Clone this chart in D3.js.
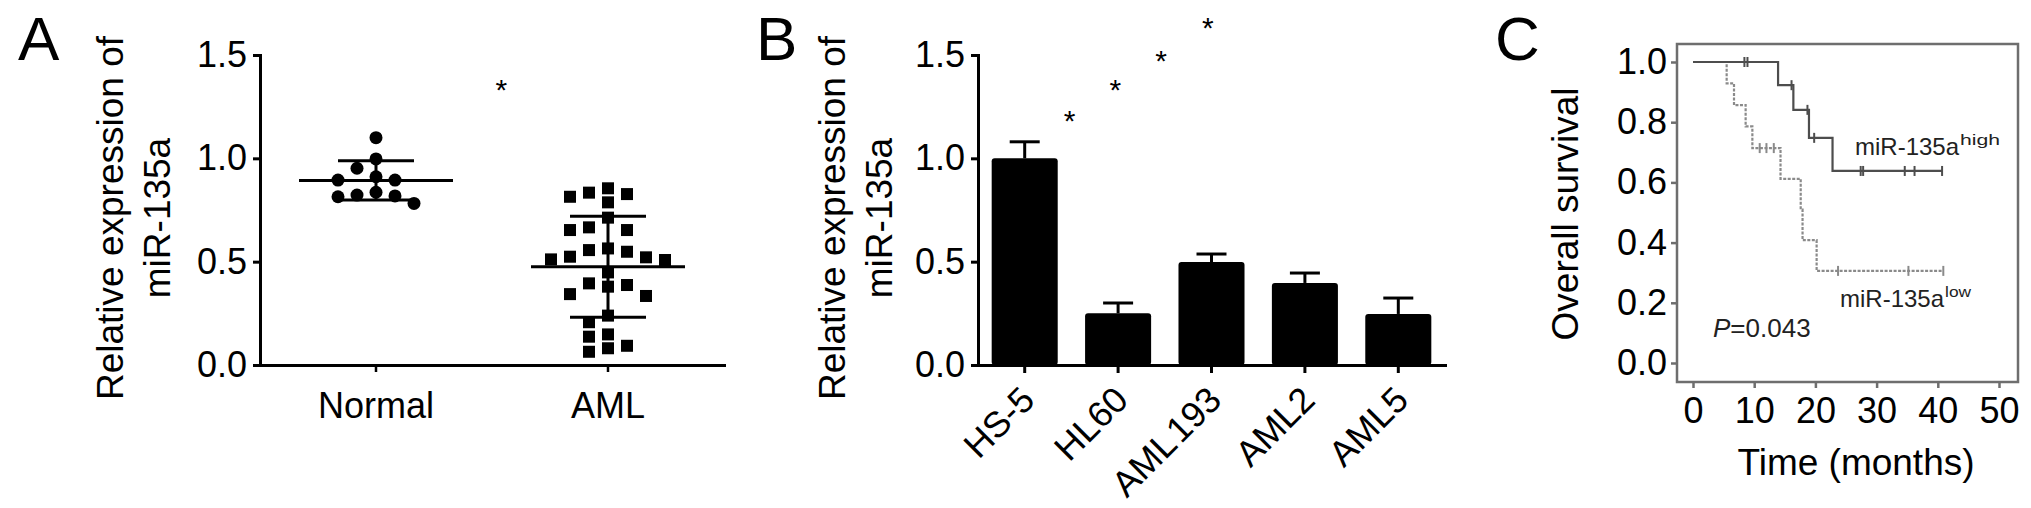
<!DOCTYPE html>
<html>
<head>
<meta charset="utf-8">
<script src="https://cdn.jsdelivr.net/npm/d3@7"></script>
<style>
  body { margin: 0; background: #fff; }
  svg text { font-family: "Liberation Sans", Arial, sans-serif; }
</style>
</head>
<body>
<svg width="2031" height="508"></svg>
<script>
// ---- panel A: scatter with mean +- SD
const groupsA = ["Normal", "AML"];
const normalVals = [1.10, 0.997, 0.952, 0.911, 0.895, 0.895, 0.836, 0.822, 0.818, 0.814, 0.782];
const amlVals = [0.855, 0.827, 0.787, 0.814, 0.834, 0.713, 0.653, 0.653, 0.666,
  0.564, 0.548, 0.556, 0.521, 0.508, 0.511, 0.524, 0.448, 0.395, 0.379, 0.387,
  0.334, 0.343, 0.239, 0.207, 0.148, 0.093, 0.064, 0.081, 0.137];
const starAPos = [0.54];      // in category units, 0 = Normal, 1 = AML
const starAVal = [1.37];

// ---- panel B: bars
const cellLines = ["HS-5", "HL60", "AML 193", "AML2", "AML5"];
const barMeans = [1.0, 0.25, 0.498, 0.397, 0.247];
const barErr = [0.08, 0.05, 0.039, 0.048, 0.077];
const starBPos = [0.48, 0.97, 1.46, 1.96];
const starBVal = [1.22, 1.37, 1.51, 1.67];

const yTicksAB = [0, 0.5, 1.0, 1.5];

// ---- panel C: Kaplan-Meier
const highTimes = [0, 13.9, 16.4, 18.95, 22.8];
const highSurv = [1, 0.923, 0.841, 0.748, 0.638];
const highCensor = [8.4, 8.9, 16.1, 18.7, 19.8, 27.4, 27.8, 34.6, 36.2, 40.7];
const highEnd = 40.7;
const lowTimes = [0, 5.5, 6.7, 8.6, 9.7, 14.3, 17.6, 17.9, 20.2];
const lowSurv = [1, 0.929, 0.857, 0.786, 0.714, 0.612, 0.51, 0.408, 0.306];
const lowCensor = [10.9, 12.0, 13.2, 23.7, 35.2, 40.9];
const lowEnd = 40.9;
const xTicksC = [0, 10, 20, 30, 40, 50];
const yTicksC = [0, 0.2, 0.4, 0.6, 0.8, 1.0];

const svg = d3.select("svg");
svg.append("rect").attr("width", 2031).attr("height", 508).attr("fill", "#fff");

const fmt = d3.format(".1f");
const FONT = 36;

function styleAxis(g, sw) {
  g.attr("font-size", FONT).attr("font-family", null);
  g.select(".domain").attr("stroke-width", sw).attr("stroke-linecap", "square");
  g.selectAll(".tick line").attr("stroke-width", sw);
}

function vTitle(x, y, lines) {
  lines.forEach(function(t, i) {
    svg.append("text")
      .attr("transform", `translate(${x + i * 47},${y}) rotate(-90)`)
      .attr("text-anchor", "middle")
      .attr("font-size", 37)
      .text(t);
  });
}

function star(x, y) {
  svg.append("text")
    .attr("x", x).attr("y", y).attr("dy", "0.6em")
    .attr("text-anchor", "middle")
    .attr("font-size", 30)
    .text("*");
}

function panelLetter(x, t) {
  svg.append("text").attr("x", x).attr("y", 60).attr("font-size", 62).text(t);
}

// ============ Panel A ============
const yA = d3.scaleLinear().domain([0, 1.5]).range([365, 55]);
const xA = d3.scaleBand().domain(groupsA).range([260, 724]);

panelLetter(18, "A");
vTitle(123, 218, ["Relative expression of", "miR-135a"]);

svg.append("g").attr("transform", "translate(260,0)")
  .call(d3.axisLeft(yA).tickValues(yTicksAB).tickFormat(fmt).tickSize(7).tickSizeOuter(0).tickPadding(6))
  .call(g => styleAxis(g, 3));

svg.append("g").attr("transform", "translate(0,365)")
  .call(d3.axisBottom(xA).tickSize(7).tickSizeOuter(0).tickPadding(20))
  .call(g => styleAxis(g, 3))
  .call(g => g.selectAll(".tick line").attr("stroke-width", 2.5));

// simple dodge so markers do not overlap
function dodge(vals, cx, size, step) {
  const placed = [];
  const order = [0];
  for (let k = 1; k < 12; k++) { order.push(-k, k); }
  vals.slice().sort((a, b) => b - a).forEach(function(v) {
    const y = yA(v);
    for (const k of order) {
      const x = cx + k * step;
      const hit = placed.some(p => Math.abs(p.x - x) < size && Math.abs(p.y - y) < size);
      if (!hit) { placed.push({x: x, y: y, v: v}); break; }
    }
  });
  return placed;
}

const groupData = [normalVals, amlVals];
groupData.forEach(function(vals, gi) {
  const cx = xA(groupsA[gi]) + xA.bandwidth() / 2;
  const pts = dodge(vals, cx, 13, 9.5);
  if (gi === 0) {
    svg.append("g").selectAll("circle").data(pts).enter().append("circle")
      .attr("cx", d => d.x).attr("cy", d => d.y).attr("r", 6.5).attr("fill", "#000");
  } else {
    svg.append("g").selectAll("rect").data(pts).enter().append("rect")
      .attr("x", d => d.x - 6).attr("y", d => d.y - 6)
      .attr("width", 12).attr("height", 12).attr("fill", "#000");
  }
  const m = d3.mean(vals), sd = d3.deviation(vals);
  const eb = svg.append("g").attr("stroke", "#000").attr("stroke-width", 3);
  eb.append("line").attr("x1", cx - 77).attr("x2", cx + 77).attr("y1", yA(m)).attr("y2", yA(m));
  eb.append("line").attr("x1", cx).attr("x2", cx).attr("y1", yA(m - sd)).attr("y2", yA(m + sd));
  [m - sd, m + sd].forEach(function(v) {
    eb.append("line").attr("x1", cx - 38).attr("x2", cx + 38).attr("y1", yA(v)).attr("y2", yA(v));
  });
});

starAPos.forEach(function(p, i) {
  const x0 = xA(groupsA[0]) + xA.bandwidth() / 2;
  star(x0 + p * xA.step(), yA(starAVal[i]));
});

// ============ Panel B ============
const yB = d3.scaleLinear().domain([0, 1.5]).range([365, 55]);
const xB = d3.scaleBand().domain(cellLines).range([978, 1445]).paddingInner(0.293).paddingOuter(0.1465);

panelLetter(756, "B");
vTitle(845, 218, ["Relative expression of", "miR-135a"]);

const errB = svg.append("g").attr("stroke", "#000").attr("stroke-width", 3);
cellLines.forEach(function(c, i) {
  const cx = xB(c) + xB.bandwidth() / 2;
  const top = barMeans[i] + barErr[i];
  errB.append("line").attr("x1", cx).attr("x2", cx).attr("y1", yB(barMeans[i])).attr("y2", yB(top));
  errB.append("line").attr("x1", cx - 15).attr("x2", cx + 15).attr("y1", yB(top)).attr("y2", yB(top));
});

svg.append("g").selectAll("rect").data(cellLines).enter().append("rect")
  .attr("x", d => xB(d))
  .attr("y", (d, i) => yB(barMeans[i]))
  .attr("width", xB.bandwidth())
  .attr("height", (d, i) => yB(0) - yB(barMeans[i]))
  .attr("rx", 3)
  .attr("fill", "#000");

svg.append("g").attr("transform", "translate(978,0)")
  .call(d3.axisLeft(yB).tickValues(yTicksAB).tickFormat(fmt).tickSize(7).tickSizeOuter(0).tickPadding(6))
  .call(g => styleAxis(g, 3));

svg.append("g").attr("transform", "translate(0,365)")
  .call(d3.axisBottom(xB).tickSize(8).tickSizeOuter(0))
  .call(g => styleAxis(g, 3))
  .call(g => g.selectAll(".tick text")
    .attr("x", 0).attr("y", 0).attr("dy", 0)
    .attr("text-anchor", "end")
    .attr("word-spacing", -6)
    .attr("transform", "translate(12,37) rotate(-45)"));

starBPos.forEach(function(p, i) {
  const x0 = xB(cellLines[0]) + xB.bandwidth() / 2;
  star(x0 + p * xB.step(), yB(starBVal[i]));
});

// ============ Panel C ============
const xC = d3.scaleLinear().domain([0, 50]).range([1693, 1999]);
const yC = d3.scaleLinear().domain([0, 1]).range([363, 62]);
const frameGray = "#6e6e6e";

panelLetter(1495, "C");
vTitle(1578, 214, ["Overall survival"]);

svg.append("rect")
  .attr("x", 1677).attr("y", 44).attr("width", 2018 - 1677).attr("height", 382 - 44)
  .attr("fill", "none").attr("stroke", frameGray).attr("stroke-width", 2.5);

svg.append("g").attr("transform", "translate(1677,0)")
  .call(d3.axisLeft(yC).tickValues(yTicksC).tickFormat(fmt).tickSize(6).tickPadding(4))
  .call(g => g.attr("font-size", FONT).attr("font-family", null))
  .call(g => g.select(".domain").remove())
  .call(g => g.selectAll(".tick line").attr("stroke", frameGray).attr("stroke-width", 2.5));

svg.append("g").attr("transform", "translate(0,382)")
  .call(d3.axisBottom(xC).tickValues(xTicksC).tickSize(6).tickPadding(9))
  .call(g => g.attr("font-size", FONT).attr("font-family", null))
  .call(g => g.select(".domain").remove())
  .call(g => g.selectAll(".tick line").attr("stroke", frameGray).attr("stroke-width", 2.5));

svg.append("text")
  .attr("x", 1856).attr("y", 475)
  .attr("text-anchor", "middle").attr("font-size", 37)
  .text("Time (months)");

function survAt(times, surv, t) {
  let s = surv[0];
  times.forEach(function(tt, i) { if (tt <= t) s = surv[i]; });
  return s;
}

function kmCurve(times, surv, censor, end, color, dash) {
  const pts = times.map((t, i) => [t, surv[i]]);
  pts.push([end, surv[surv.length - 1]]);
  const line = d3.line().x(d => xC(d[0])).y(d => yC(d[1])).curve(d3.curveStepAfter);
  svg.append("path").datum(pts)
    .attr("d", line)
    .attr("fill", "none")
    .attr("stroke", color)
    .attr("stroke-width", 2.2)
    .attr("stroke-dasharray", dash);
  svg.append("g").selectAll("line").data(censor).enter().append("line")
    .attr("x1", d => xC(d)).attr("x2", d => xC(d))
    .attr("y1", d => yC(survAt(times, surv, d)) - 5)
    .attr("y2", d => yC(survAt(times, surv, d)) + 5)
    .attr("stroke", color).attr("stroke-width", 2);
}

kmCurve(lowTimes, lowSurv, lowCensor, lowEnd, "#8a8a8a", "3,1.5");
kmCurve(highTimes, highSurv, highCensor, highEnd, "#4d4d4d", null);

function groupLabel(x, y, sup, supLen) {
  const t = svg.append("text").attr("x", x).attr("y", y).attr("font-size", 24).attr("fill", "#222").text("miR-135a");
  const w = t.node().getComputedTextLength();
  svg.append("text")
    .attr("x", x + w + 1).attr("y", y - 10)
    .attr("font-size", 14)
    .attr("fill", "#222")
    .attr("textLength", supLen).attr("lengthAdjust", "spacingAndGlyphs")
    .text(sup);
}
groupLabel(1855, 155, "high", 40);
groupLabel(1840, 307, "low", 26);

const pt = svg.append("text").attr("x", 1713).attr("y", 337).attr("font-size", 26).attr("fill", "#222");
pt.append("tspan").attr("font-style", "italic").text("P");
pt.append("tspan").text("=0.043");
</script>
</body>
</html>
